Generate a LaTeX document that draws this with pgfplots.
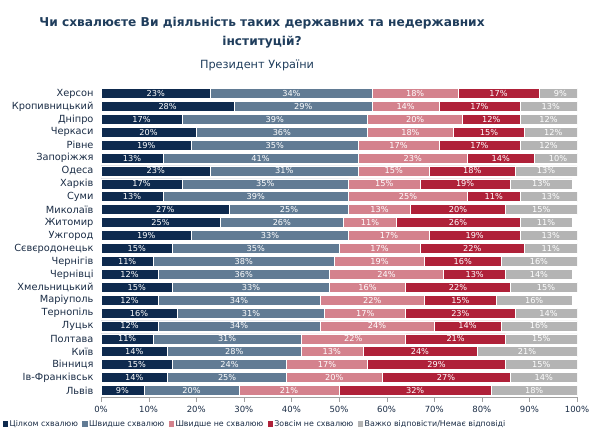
\documentclass[border=0pt]{standalone}
\usepackage{fontspec}
\setmainfont{DejaVu Sans}
\usepackage{pgfplots}
\usepackage{pgfplotstable}
\pgfplotsset{compat=1.18}

\definecolor{cfull}{HTML}{0E2A4E}
\definecolor{crather}{HTML}{617B94}
\definecolor{crathernot}{HTML}{D4828D}
\definecolor{cnot}{HTML}{AF2139}
\definecolor{chard}{HTML}{B4B4B4}
\definecolor{ctitle}{HTML}{1F3D5C}
\definecolor{clabel}{HTML}{1A2C45}
\definecolor{caxis}{HTML}{A0A0A0}

% Shares of answers by city, %
\pgfplotstableread{
city a b c d e
Херсон 23 34 18 17 9
Кропивницький 28 29 14 17 13
Дніпро 17 39 20 12 12
Черкаси 20 36 18 15 12
Рівне 19 35 17 17 12
Запоріжжя 13 41 23 14 10
Одеса 23 31 15 18 13
Харків 17 35 15 19 13
Суми 13 39 25 11 13
Миколаїв 27 25 13 20 15
Житомир 25 26 11 26 11
Ужгород 19 33 17 19 13
Сєвєродонецьк 15 35 17 22 11
Чернігів 11 38 19 16 16
Чернівці 12 36 24 13 14
Хмельницький 15 33 16 22 15
Маріуполь 12 34 22 15 16
Тернопіль 16 31 17 23 14
Луцьк 12 34 24 14 16
Полтава 11 31 22 21 15
Київ 14 28 13 24 21
Вінниця 15 24 17 29 15
Ів-Франківськ 14 25 20 27 14
Львів 9 20 21 32 18
}\datatable

\pgfplotsset{
  common/.style={
    at={(101pt,32pt)}, anchor=south west, scale only axis,
    width=476pt, height=310pt,
    xmin=0, xmax=100, ymin=-0.5, ymax=23.5, y dir=reverse,
    /pgf/number format/assume math mode=true,
  },
  vlabel/.style={only marks, mark=none, point meta=explicit,
    nodes near coords={\pgfmathprintnumber{\pgfplotspointmeta}\%},
    every node near coord/.append style={anchor=center, text=white,
      font=\fontsize{8.2}{9}\selectfont, inner sep=0pt}},
}

\begin{document}
\begin{tikzpicture}
\path[use as bounding box] (0pt,0pt) rectangle (600pt,429pt);
\node[font=\bfseries\fontsize{12.2}{19}\selectfont, text=ctitle, align=center]
  at (262pt,396.5pt) {Чи схвалюєте Ви діяльність таких державних та недержавних\\інституцій?};
\node[font=\fontsize{11.3}{13}\selectfont, text=ctitle] at (257pt,364pt) {Президент України};

\begin{axis}[common,
  xbar stacked, bar width=10pt,
  ytick={0,...,23}, yticklabels from table={\datatable}{city},
  yticklabel style={font=\fontsize{9.8}{11}\selectfont, text=clabel, xshift=-4pt},
  xtick={0,10,...,100}, xticklabel={\pgfmathprintnumber{\tick}\%},
  xticklabel style={font=\fontsize{8.5}{10}\selectfont, text=clabel, yshift=-1pt},
  axis x line*=bottom, axis y line*=left,
  y axis line style={draw=none}, ytick style={draw=none},
  x axis line style={draw=caxis}, xtick style={draw=caxis},
  xtick align=outside, major tick length=5pt,
  legend style={at={(-0.206,-0.087)}, anchor=west, draw=none, fill=none,
    legend columns=-1, font=\fontsize{7.9}{9}\selectfont, text=clabel,
    /tikz/every even column/.append style={column sep=3pt},
    nodes={inner sep=1.5pt},
    inner sep=0pt, outer sep=0pt},
  legend image code/.code={\fill[#1,draw=none] (0pt,-2.6pt) rectangle (5.2pt,2.6pt);},
]
\addplot[fill=cfull, draw=white, line width=0.6pt] table[x=a, y expr=\coordindex] {\datatable};
\addplot[fill=crather, draw=white, line width=0.6pt] table[x=b, y expr=\coordindex] {\datatable};
\addplot[fill=crathernot, draw=white, line width=0.6pt] table[x=c, y expr=\coordindex] {\datatable};
\addplot[fill=cnot, draw=white, line width=0.6pt] table[x=d, y expr=\coordindex] {\datatable};
\addplot[fill=chard, draw=white, line width=0.6pt] table[x=e, y expr=\coordindex] {\datatable};
\legend{Цілком схвалюю, Швидше схвалюю, Швидше не схвалюю, Зовсім не схвалюю, Важко відповісти/Немає відповіді}
\end{axis}

\begin{axis}[common, hide axis]
\addplot[vlabel] table[x expr=\thisrow{a}/2, y expr=\coordindex, meta=a] {\datatable};
\addplot[vlabel] table[x expr=\thisrow{a}+\thisrow{b}/2, y expr=\coordindex, meta=b] {\datatable};
\addplot[vlabel] table[x expr=\thisrow{a}+\thisrow{b}+\thisrow{c}/2, y expr=\coordindex, meta=c] {\datatable};
\addplot[vlabel] table[x expr=\thisrow{a}+\thisrow{b}+\thisrow{c}+\thisrow{d}/2, y expr=\coordindex, meta=d] {\datatable};
\addplot[vlabel] table[x expr=\thisrow{a}+\thisrow{b}+\thisrow{c}+\thisrow{d}+\thisrow{e}/2, y expr=\coordindex, meta=e] {\datatable};
\end{axis}
\end{tikzpicture}
\end{document}
